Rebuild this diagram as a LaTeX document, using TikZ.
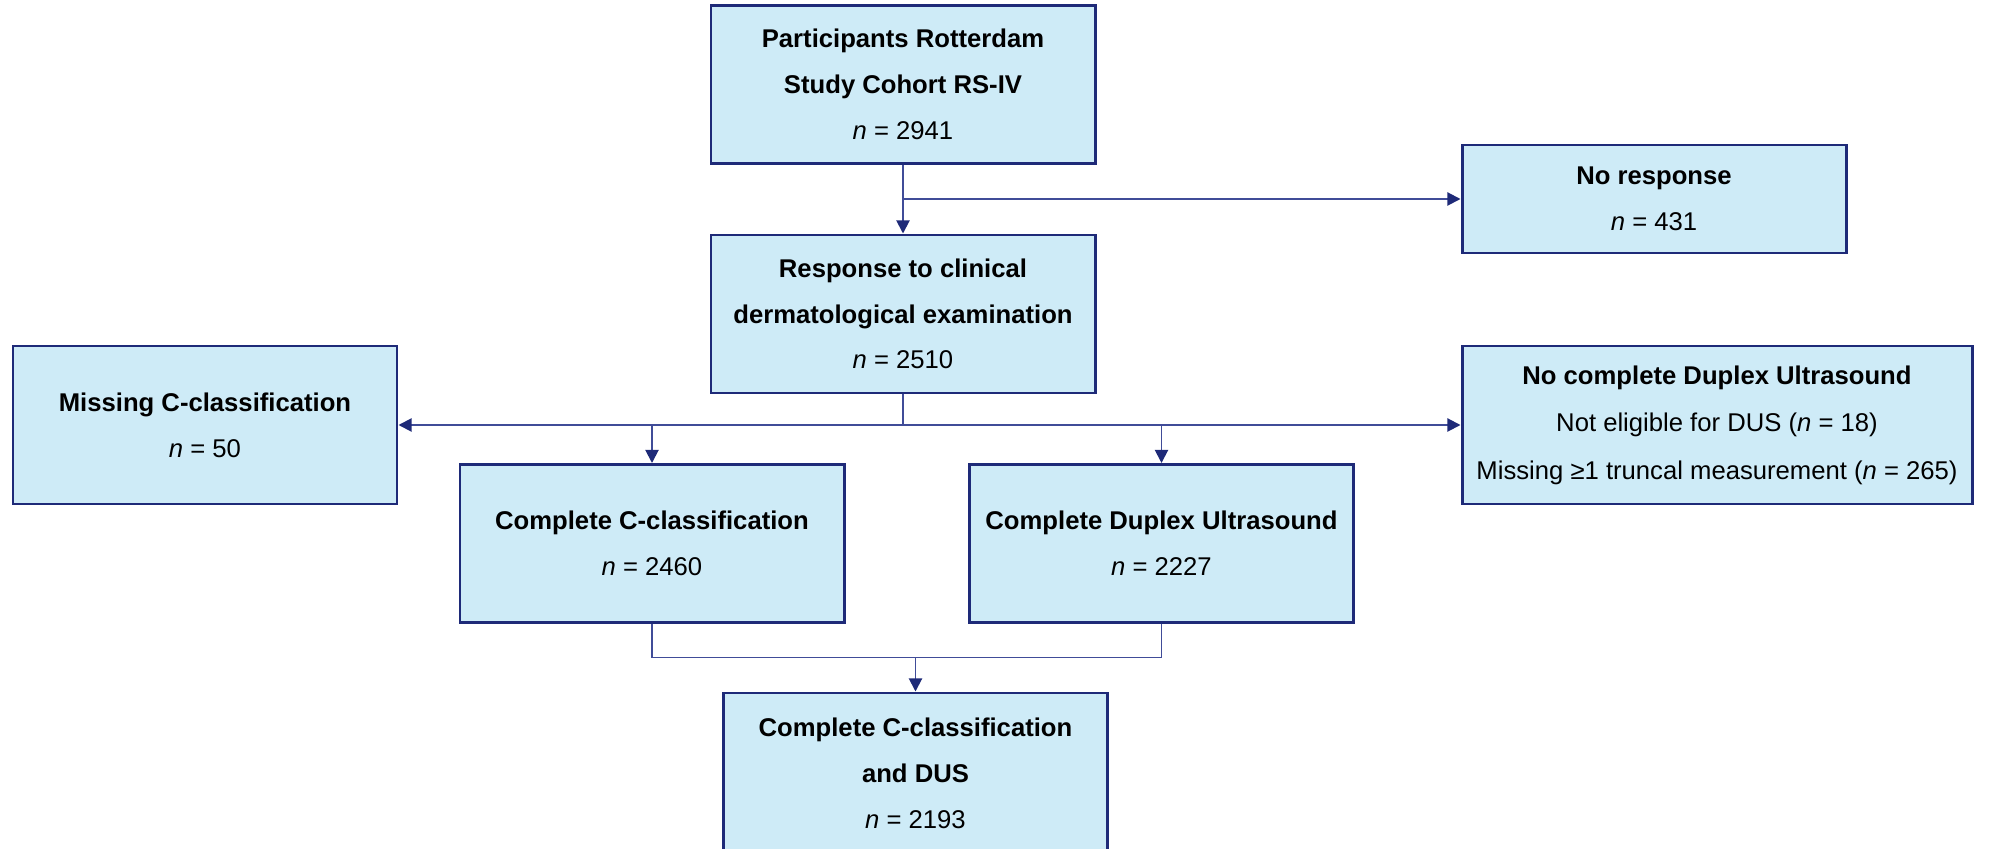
\documentclass[tikz,border=0pt]{standalone}
\usepackage{fontspec}
\setmainfont{Liberation Sans}
\usetikzlibrary{arrows.meta, positioning, calc}
\definecolor{fillc}{RGB}{206,235,247}
\definecolor{edgec}{RGB}{30,42,120}
\definecolor{linkc}{RGB}{64,76,152}
\tikzset{
  box/.style={
    rectangle, draw=edgec, fill=fillc, line width=1.7pt,
    align=center, inner sep=4pt, text=black,
    minimum width=7.68cm, minimum height=3.16cm,
    font=\fontsize{14.6}{26}\selectfont
  },
  wide/.style={minimum width=10.2cm, font=\fontsize{14.6}{27}\selectfont},
  link/.style={draw=linkc, line width=1.1pt},
  arr/.style={link, -{Triangle[length=7.5pt, width=7.5pt, color=edgec]}},
}
\newcommand{\cnt}[1]{\textit{n} = #1}

\begin{document}
\begin{tikzpicture}

  \clip (0,0) rectangle (39.82,-16.98);

  \node[box] (cohort) at (18.06,-1.69)
    {\textbf{Participants Rotterdam}\\\textbf{Study Cohort RS-IV}\\\cnt{2941}};
  \node[box] (response) at (18.06,-6.28)
    {\textbf{Response to clinical}\\\textbf{dermatological examination}\\\cnt{2510}};
  \node[box, minimum height=2.16cm] (noresp) at (33.08,-3.98)
    {\textbf{No response}\\\cnt{431}};

  \node[box] (missing) at (4.10,-8.50)
    {\textbf{Missing C-classification}\\\cnt{50}};
  \node[box, wide] (nodus) at (34.34,-8.50)
    {\textbf{No complete Duplex Ultrasound}\\Not eligible for DUS (\textit{n} = 18)\\
     Missing ≥1 truncal measurement (\textit{n} = 265)};

  \node[box] (compc) at (13.04,-10.87)
    {\textbf{Complete C-classification}\\\cnt{2460}};
  \node[box] (compdus) at (23.23,-10.87)
    {\textbf{Complete Duplex Ultrasound}\\\cnt{2227}};

  \node[box, minimum height=3.22cm] (final) at (18.31,-15.47)
    {\textbf{Complete C-classification}\\\textbf{and DUS}\\\cnt{2193}};

  % forks and joins
  \coordinate (fork) at (cohort.south |- noresp.west);
  \coordinate (split) at (response.south |- missing.east);
  \coordinate (merge) at ($(final.north)+(0,0.68)$);

  \draw[arr] (cohort.south) -- (response.north);
  \draw[arr] (fork) -- (noresp.west);

  \draw[link] (response.south) -- (split);
  \draw[arr] (split) -- (missing.east);
  \draw[arr] (split) -- (nodus.west);
  \draw[arr] (split -| compc.north) -- (compc.north);
  \draw[arr] (split -| compdus.north) -- (compdus.north);

  \draw[link] (compc.south) |- (merge) -| (compdus.south);
  \draw[arr] (merge) -- (final.north);

\end{tikzpicture}
\end{document}
